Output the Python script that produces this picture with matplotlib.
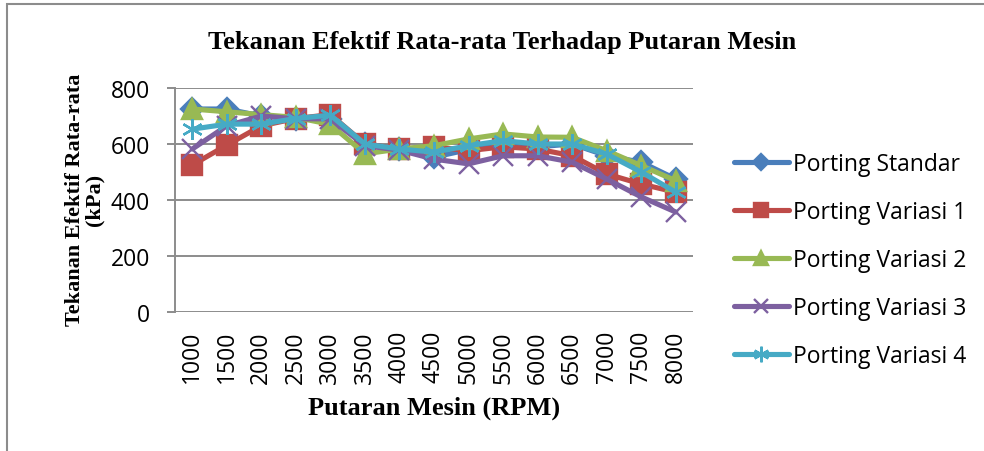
import matplotlib.pyplot as plt
from matplotlib.patches import Rectangle

rpm = ["1000", "1500", "2000", "2500", "3000", "3500", "4000", "4500",
       "5000", "5500", "6000", "6500", "7000", "7500", "8000"]
standar = [725, 725, 700, 690, 690, 600, 582, 553, 580, 600, 590, 600, 558, 535, 475]
variasi1 = [525, 596, 665, 691, 705, 600, 582, 590, 576, 590, 582, 558, 493, 457, 428]
variasi2 = [725, 715, 705, 695, 670, 565, 582, 594, 618, 636, 625, 624, 576, 523, 469]
variasi3 = [582, 665, 700, 690, 690, 594, 578, 546, 529, 558, 558, 535, 475, 411, 357]
variasi4 = [653, 671, 671, 691, 703, 600, 582, 571, 594, 612, 600, 600, 564, 500, 428]

labels = ["Porting Standar", "Porting Variasi 1", "Porting Variasi 2",
          "Porting Variasi 3", "Porting Variasi 4"]
colors = ["#4A7EBB", "#BE4B48", "#98B954", "#7D60A0", "#46AAC5"]
markers = ["D", "s", "^", "x", (6, 2, 0)]
msizes = [11.5, 14, 14, 14, 15]

fig = plt.figure(figsize=(9.84, 4.52), dpi=100)
ax = fig.add_axes([175 / 984, 1 - 313 / 452, 518 / 984, 224 / 452])

x = list(range(len(rpm)))
for vals, lab, c, m, ms in zip([standar, variasi1, variasi2, variasi3, variasi4],
                               labels, colors, markers, msizes):
    ax.plot(x, vals, color=c, lw=3.7, marker=m, ms=ms, mfc=c, mec=c,
            mew=1.7, label=lab, solid_capstyle="round")

ax.set_xlim(-0.5, len(rpm) - 0.5)
ax.set_ylim(0, 800)
ax.set_yticks([0, 200, 400, 600, 800])
ax.set_xticks(x)
ax.set_xticklabels(rpm, rotation=90)
ax.grid(axis="y", color="#8c8c8c", lw=1.4)
ax.set_axisbelow(True)
for s in ["top", "right", "bottom"]:
    ax.spines[s].set_visible(False)
ax.spines["left"].set_color("#8c8c8c")
ax.spines["left"].set_linewidth(1.4)
ax.tick_params(axis="y", length=6, color="#8c8c8c", width=1.4, pad=12,
               labelsize=16.5)
ax.tick_params(axis="x", length=0, pad=13, labelsize=16.5)
for t in ax.get_xticklabels() + ax.get_yticklabels():
    t.set_fontfamily("Open Sans")

serif = "Liberation Serif"
fig.text(502 / 984, 1 - 43 / 452, "Tekanan Efektif Rata-rata Terhadap Putaran Mesin",
         ha="center", va="center", fontsize=19, fontweight="bold", family=serif)
fig.text(434 / 984, 1 - 408 / 452, "Putaran Mesin (RPM)", ha="center", va="center",
         fontsize=19, fontweight="bold", family=serif)
fig.text(85 / 984, 1 - 200 / 452, "Tekanan Efektif Rata-rata\n(kPa)", ha="center",
         va="center", rotation=90, fontsize=16, fontweight="bold", family=serif,
         multialignment="center", linespacing=0.95)

fig.legend(loc="upper left", bbox_to_anchor=(713 / 984, 1 - 132 / 452), frameon=False,
           prop={"family": "Open Sans", "size": 16.5}, handlelength=2.4,
           handletextpad=0.2, labelspacing=1.05, markerscale=0.75)

fig.patches.append(Rectangle((7 / 984, -0.5), 2, 0.5 + 1 - 5 / 452,
                             transform=fig.transFigure, fill=False,
                             edgecolor="#8c8c8c", lw=1.5))

fig.savefig("out.png", dpi=100)
